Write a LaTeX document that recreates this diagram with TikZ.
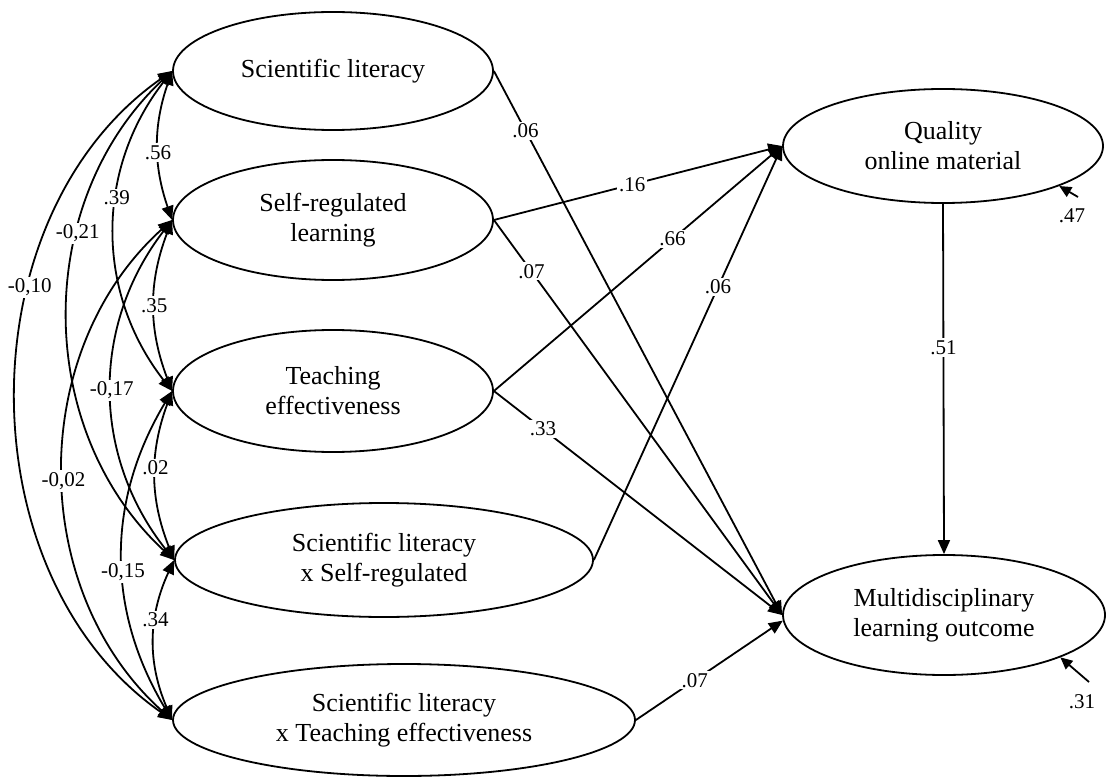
\documentclass[tikz,border=0pt]{standalone}
\usepackage{fontspec}
\setmainfont{Liberation Serif}
\usetikzlibrary{shapes.geometric,arrows.meta}
\begin{document}
\begin{tikzpicture}[x=1pt,y=-1pt,
  lat/.style={draw, ellipse, line width=1.8pt, inner sep=0pt, align=center,
    font=\fontsize{26}{30}\selectfont},
  regarrow/.style={line width=1.8pt, -{Triangle[length=14pt,width=12pt]}},
  errarrow/.style={line width=1.8pt, -{Triangle[length=12pt,width=11pt]}},
  cov/.style={line width=1.8pt,
    {Triangle[length=14pt,width=12pt]}-{Triangle[length=14pt,width=12pt]}},
  lbl/.style={fill=white, inner sep=2pt, font=\fontsize{21}{23}\selectfont},
  elbl/.style={inner sep=0pt, font=\fontsize{21}{23}\selectfont}]
\useasboundingbox (0,0) rectangle (1107,783);

% latent variables
\node[lat, minimum width=320pt, minimum height=118pt] (e1) at (333,71) {Scientific literacy};
\node[lat, minimum width=320pt, minimum height=120pt] (e2) at (333,220) {Self-regulated\\learning};
\node[lat, minimum width=320pt, minimum height=122pt] (e3) at (333,391) {Teaching\\effectiveness};
\node[lat, minimum width=418pt, minimum height=114pt] (e4) at (384,560) {Scientific literacy\\x Self-regulated};
\node[lat, minimum width=462pt, minimum height=112pt] (e5) at (404,720) {Scientific literacy\\x Teaching effectiveness};
\node[lat, minimum width=320pt, minimum height=114pt] (q) at (943,146) {Quality\\online material};
\node[lat, minimum width=322pt, minimum height=120pt] (m) at (944,615) {Multidisciplinary\\learning outcome};

% covariances
\draw[cov] (e1.west) to[bend right=55] node[lbl,pos=0.355] {-0,10} (e5.west);
\draw[cov] (e1.west) to[bend right=47] node[lbl,pos=0.345] {-0,21} (e4.west);
\draw[cov] (e2.west) to[bend right=48] node[lbl,pos=0.52] {-0,02} (e5.west);
\draw[cov] (e1.west) to[bend right=38] node[lbl,pos=0.4] {.39} (e3.west);
\draw[cov] (e2.west) to[bend right=38] node[lbl,pos=0.5] {-0,17} (e4.west);
\draw[cov] (e3.west) to[bend right=31] node[lbl,pos=0.55] {-0,15} (e5.west);
\draw[cov] (e1.west) to[bend right=19] node[lbl,pos=0.55] {.56} (e2.west);
\draw[cov] (e2.west) to[bend right=21] node[lbl,pos=0.5] {.35} (e3.west);
\draw[cov] (e3.west) to[bend right=21] node[lbl,pos=0.45] {.02} (e4.west);
\draw[cov] (e4.west) to[bend right=24] node[lbl,pos=0.37] {.34} (e5.west);

% regression paths
\draw[regarrow] (e1.east) -- node[lbl,pos=0.11] {.06} (m.west);
\draw[regarrow] (e2.east) -- node[lbl,pos=0.13] {.07} (m.west);
\draw[regarrow] (e3.east) -- node[lbl,pos=0.17] {.33} (m.west);
\draw[regarrow] (e5.east) -- node[lbl,pos=0.4] {.07} (m.182);
\draw[regarrow] (e2.east) -- node[lbl,pos=0.48] {.16} (q.west);
\draw[regarrow] (e3.east) -- node[lbl,pos=0.62] {.66} (q.west);
\draw[regarrow] (e4.east) -- node[lbl,pos=0.66] {.06} (q.west);
\draw[regarrow] (q.south) -- node[lbl,pos=0.41] {.51} (m.north);

% residuals
\coordinate (rq) at (1078,197);
\coordinate (rm) at (1089,682);
\draw[errarrow] (rq) -- (q.-19.6);
\draw[errarrow] (rm) -- (m.-20);
\node[elbl] (rqlbl) at (1072,216) {.47};
\node[elbl] (rmlbl) at (1082,702) {.31};
\end{tikzpicture}
\end{document}
